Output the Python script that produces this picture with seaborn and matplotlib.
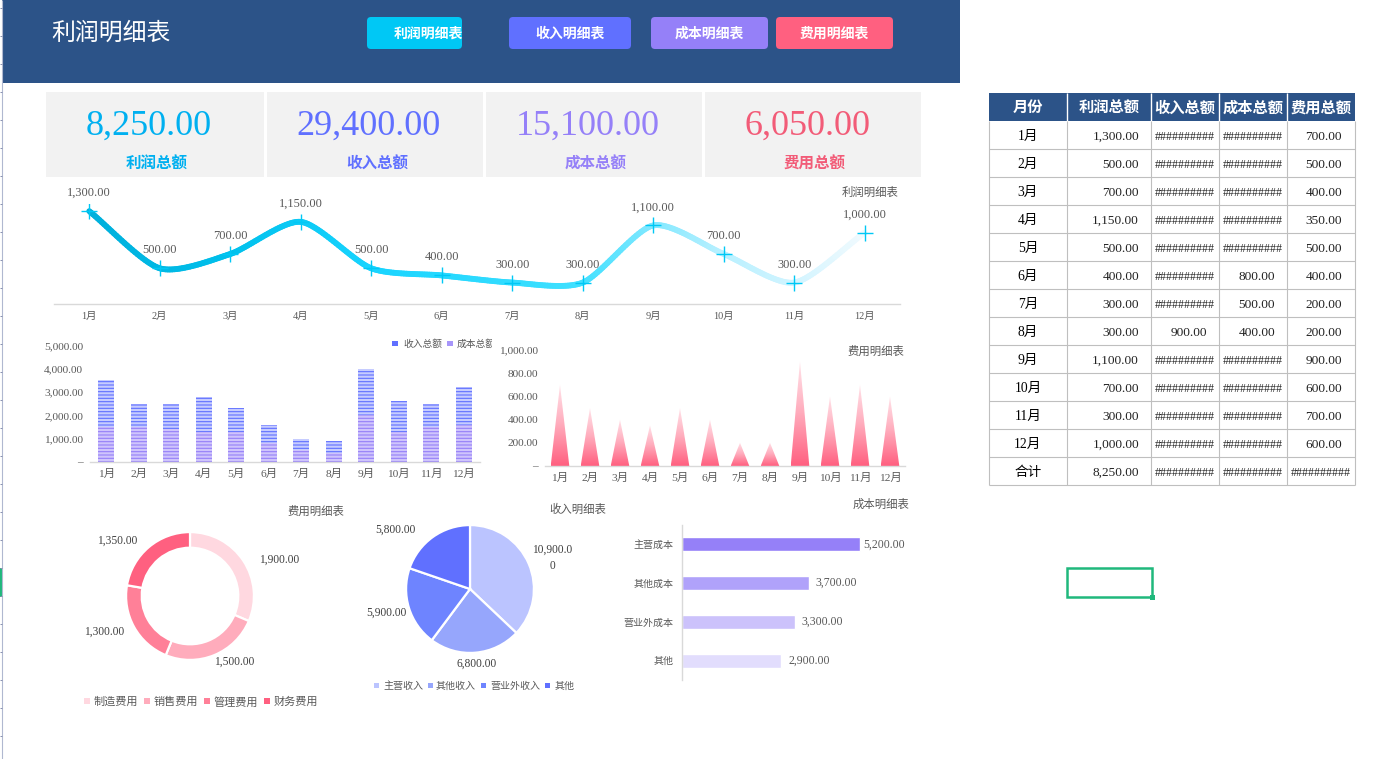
import numpy as np
import pandas as pd
import matplotlib
matplotlib.use("Agg")
import matplotlib.pyplot as plt
from matplotlib.collections import LineCollection
from matplotlib.colors import LinearSegmentedColormap
from matplotlib.patches import FancyBboxPatch, Polygon, Rectangle
from matplotlib.ticker import FuncFormatter
import seaborn as sns

sns.set_theme(style="white")
plt.rcParams["font.family"] = ["Liberation Serif", "Noto Sans CJK SC"]
plt.rcParams["hatch.linewidth"] = 0.8

# ── data ──────────────────────────────────────────────────────────────
months = ["1月", "2月", "3月", "4月", "5月", "6月", "7月", "8月", "9月", "10月", "11月", "12月"]
profit = [1300, 500, 700, 1150, 500, 400, 300, 300, 1100, 700, 300, 1000]
revenue = [3500, 2500, 2500, 2800, 2300, 1600, 1000, 900, 4000, 2600, 2500, 3200]
cost = [1500, 1500, 1400, 1300, 1300, 800, 500, 400, 2000, 1300, 1500, 1600]
expense = [700, 500, 400, 350, 500, 400, 200, 200, 900, 600, 700, 600]

expense_types = ["制造费用", "销售费用", "管理费用", "财务费用"]
expense_split = [1900, 1500, 1300, 1350]
revenue_types = ["主营收入", "其他收入", "营业外收入", "其他"]
revenue_split = [10900, 6800, 5900, 5800]
cost_types = ["主营成本", "其他成本", "营业外成本", "其他"]
cost_split = [5200, 3700, 3300, 2900]

nav_labels = ["利润明细表", "收入明细表", "成本明细表", "费用明细表"]
kpi_labels = ["利润总额", "收入总额", "成本总额", "费用总额"]
table_head = ["月份", "利润总额", "收入总额", "成本总额", "费用总额"]

# ── colours ───────────────────────────────────────────────────────────
NAVY = "#2C5388"
CYAN, BLUE, PURPLE, PINK = "#00C8F5", "#6070FF", "#9580F8", "#FF6080"
GREY_TXT = "#595959"
AXIS = "#D9D9D9"
GRID = "#BFBFBF"
GREEN = "#20B87C"
PINKS = ["#FFD8E0", "#FFACBC", "#FF8098", "#FF6080"]
BLUES = ["#BBC4FF", "#96A6FC", "#6E84FF", "#6070FF"]
PURPLES = ["#9580F8", "#B0A2FA", "#CCC2FB", "#E2DDFD"]

W, H = 1396, 759
fig = plt.figure(figsize=(W / 100, H / 100), dpi=100, facecolor="white")


def money(v):
    return f"{v:,.2f}"


def px_axes(left, top, right, bottom):
    a = fig.add_axes([left / W, 1 - bottom / H, (right - left) / W, (bottom - top) / H])
    a.patch.set_alpha(0)
    return a


def clean(a, keep="bottom"):
    for s in a.spines.values():
        s.set_visible(False)
    a.spines[keep].set_visible(True)
    a.spines[keep].set_color(AXIS)
    a.spines[keep].set_linewidth(1)
    a.set_xlabel("")
    a.set_ylabel("")


# ── page background, header, cards (pixel coords) ─────────────────────
bg = fig.add_axes([0, 0, 1, 1])
bg.set_xlim(0, W)
bg.set_ylim(H, 0)
bg.axis("off")

bg.add_patch(Rectangle((2, 0), 958, 83, color=NAVY, lw=0))
bg.text(51, 34, "利润明细表", color="white", fontsize=17.2, va="center")

bg.vlines(1.5, 0, H, color="#B0B8D0", lw=0.8)
bg.hlines(np.arange(8, H, 28), 0, 1.5, color="#8890B0", lw=0.7)
bg.add_patch(Rectangle((0, 568), 2, 29, color=GREEN, lw=0))

nav_x = [(367, 462), (509, 631), (651, 768), (776, 893)]
nav_c = [CYAN, BLUE, PURPLE, PINK]
nav_text_x = [428.5, 570.5, 709.5, 834.5]
for (x0, x1), c, t, tx in zip(nav_x, nav_c, nav_labels, nav_text_x):
    bg.add_patch(FancyBboxPatch((x0 + 4, 21), x1 - x0 - 8, 24, boxstyle="round,pad=4,rounding_size=4",
                                fc=c, ec="none", mutation_aspect=1))
    bg.text(tx, 33.5, t, color="white", fontsize=10, fontweight="bold", ha="center", va="center")

card_x = [(46, 264), (267, 483), (486, 702), (705, 921)]
card_c = ["#00B0F0", BLUE, PURPLE, "#F25C78"]
kpi_values = [sum(profit), sum(revenue), sum(cost), sum(expense)]
for (x0, x1), c, t, v in zip(card_x, card_c, kpi_labels, kpi_values):
    bg.add_patch(Rectangle((x0, 92), x1 - x0, 85, color="#F2F2F2", lw=0))
    bg.text((x0 + x1) / 2 - 6, 126, money(v), color=c, fontsize=26, ha="center", va="center")
    bg.text((x0 + x1) / 2 + 2, 164.5, t, color=c, fontsize=11.2, fontweight="bold",
            ha="center", va="center")

# chart titles sitting above the plots
for x, y, t in [(870, 192, "利润明细表"), (876, 351, "费用明细表"), (316, 511, "费用明细表"),
                (578, 509, "收入明细表"), (881, 504, "成本明细表")]:
    bg.text(x, y, t, color=GREY_TXT, fontsize=8.2, ha="center", va="center")

# ── table ─────────────────────────────────────────────────────────────
col_x = [988.5, 1067, 1151, 1219, 1287, 1355]
row_top, head_bottom, row_h = 93, 120.5, 28
n_rows = len(months) + 1
table_bottom = head_bottom + n_rows * row_h

bg.add_patch(Rectangle((col_x[0], row_top), col_x[-1] - col_x[0], head_bottom - row_top, color=NAVY, lw=0))
bg.vlines(col_x[1:-1], row_top, head_bottom, color="white", lw=1)
bg.hlines([head_bottom + i * row_h for i in range(1, n_rows + 1)], col_x[0], col_x[-1], color=GRID, lw=0.8)
bg.vlines(col_x, head_bottom, table_bottom, color=GRID, lw=0.8)
for i, t in enumerate(table_head):
    bg.text((col_x[i] + col_x[i + 1]) / 2, 108.5, t, color="white", fontsize=11, fontweight="bold",
            ha="center", va="center")

rights = [1139, 1207, 1275, 1342]
table_rows = list(zip(months, profit, revenue, cost, expense))
table_rows.append(("合计", sum(profit), sum(revenue), sum(cost), sum(expense)))
for r, (m, *vals) in enumerate(table_rows):
    y = head_bottom + (r + 0.5) * row_h + 2
    bg.text(1028, y, m, color="black", fontsize=9.8, ha="center", va="center")
    for c, v in enumerate(vals):
        # narrow columns show ###### once the number no longer fits
        if c > 0 and v >= 1000:
            bg.text((col_x[c + 1] + col_x[c + 2]) / 2, y, "#" * 10, color="#222222", fontsize=8.6,
                    ha="center", va="center")
        else:
            bg.text(rights[c], y, money(v), color="#222222", fontsize=9.6, ha="right", va="center")

bg.add_patch(Rectangle((1067, 568), 85, 29, fc="none", ec=GREEN, lw=1.8))
bg.add_patch(Rectangle((1149.5, 594.5), 5, 5, color=GREEN, lw=0))

# ── profit line ───────────────────────────────────────────────────────
ax = px_axes(54, 204, 900, 304)
x_idx = np.arange(len(months))
line_df = pd.DataFrame({"x": x_idx, "y": profit})
sns.lineplot(data=line_df, x="x", y="y", ax=ax, marker="+", linestyle="none", markersize=11,
             markeredgewidth=1, markeredgecolor=CYAN, color=CYAN, errorbar=None, zorder=5)

# smooth stroke through the values, a little tighter than plain Catmull-Rom
pts = np.column_stack([x_idx, profit]).astype(float)
tang = np.gradient(pts, axis=0) * 0.75
curve = []
for i in range(len(pts) - 1):
    for u in np.linspace(0, 1, 30, endpoint=False):
        curve.append((2 * u ** 3 - 3 * u ** 2 + 1) * pts[i] + (u ** 3 - 2 * u ** 2 + u) * tang[i]
                     + (-2 * u ** 3 + 3 * u ** 2) * pts[i + 1] + (u ** 3 - u ** 2) * tang[i + 1])
curve.append(pts[-1])
curve = np.array(curve)
segs = np.stack([curve[:-1], curve[1:]], axis=1)
line_cmap = LinearSegmentedColormap.from_list("fade", [
    (0.0, "#00B0DC"), (2 / 11, "#00C0EC"), (4 / 11, "#18D4FF"), (7 / 11, "#40E0FF"),
    (8 / 11, "#80E8FF"), (9 / 11, "#B8F0FF"), (10 / 11, "#D0F4FF"), (1.0, "#F0FAFE")])
lc = LineCollection(segs, cmap=line_cmap, linewidths=4.2, capstyle="round", zorder=3)
lc.set_array(segs[:, 0, 0] / 11)
ax.add_collection(lc)

for xv, yv in zip(x_idx, profit):
    ax.annotate(money(yv), (xv, yv), xytext=(0, 13), textcoords="offset points", ha="center",
                va="center", fontsize=8.9, color=GREY_TXT, annotation_clip=False)
ax.set_xlim(-0.5, 11.5)
ax.set_ylim(0, 1400)
ax.set_xticks(x_idx, months)
ax.set_yticks([])
ax.tick_params(axis="x", length=0, pad=6, labelsize=7.5, labelcolor=GREY_TXT)
clean(ax)

# ── revenue / cost bars ───────────────────────────────────────────────
ax = px_axes(90, 345.5, 480, 462)
bar_df = pd.DataFrame({"month": months, "revenue": revenue, "cost": cost})
sns.barplot(data=bar_df, x="month", y="revenue", ax=ax, color="#C6CCFF", saturation=1, width=0.48)
sns.barplot(data=bar_df, x="month", y="cost", ax=ax, color="#CFC4FC", saturation=1, width=0.48)
n = len(months)
for i, patch in enumerate(ax.patches):
    patch.set_hatch("-----")
    patch.set_edgecolor(BLUE if i < n else PURPLE)
    patch.set_linewidth(0)
ax.set_ylim(0, 5000)
ax.set_yticks(range(0, 5001, 1000))
ax.yaxis.set_major_formatter(FuncFormatter(lambda v, _: "–" if v == 0 else money(v)))
ax.tick_params(axis="both", length=0, labelsize=8.2, labelcolor=GREY_TXT)
ax.tick_params(axis="x", pad=5)
ax.tick_params(axis="y", pad=5)
clean(ax)

# legend is cut off by the chart frame in the sheet
bg.add_patch(Rectangle((392, 341), 6, 5, color=BLUE, lw=0))
bg.text(403, 344, kpi_labels[1], color=GREY_TXT, fontsize=7, va="center")
bg.add_patch(Rectangle((447, 341), 6, 5, color="#A796FA", lw=0))
leg_cut = bg.text(457, 344, kpi_labels[2], color=GREY_TXT, fontsize=7, va="center")
leg_cut.set_clip_on(True)
leg_cut.set_clip_path(Rectangle((440, 330), 52, 30, transform=bg.transData))

# ── expense triangles ─────────────────────────────────────────────────
ax = px_axes(545, 350, 905, 466)
exp_df = pd.DataFrame({"month": months, "expense": expense})
sns.barplot(data=exp_df, x="month", y="expense", ax=ax, color="white", saturation=1, width=0.62, alpha=0)
tri_cmap = LinearSegmentedColormap.from_list("tri", [PINK, "#FFAABB", "#FFE4EA"])
grad = np.linspace(0, 1, 128)[:, None]
for bar in list(ax.patches):
    x0, wd, ht = bar.get_x(), bar.get_width(), bar.get_height()
    tri = Polygon([(x0, 0), (x0 + wd / 2, ht), (x0 + wd, 0)], transform=ax.transData, fc="none", ec="none")
    ax.add_patch(tri)
    im = ax.imshow(grad, origin="lower", aspect="auto", cmap=tri_cmap, extent=(x0, x0 + wd, 0, ht), zorder=2)
    im.set_clip_path(tri)
ax.set_xlim(-0.5, 11.5)
ax.set_ylim(0, 1000)
ax.set_yticks(range(0, 1001, 200))
ax.yaxis.set_major_formatter(FuncFormatter(lambda v, _: "–" if v == 0 else money(v)))
ax.tick_params(axis="both", length=0, labelsize=8.2, labelcolor=GREY_TXT)
ax.tick_params(axis="x", pad=5)
ax.tick_params(axis="y", pad=5)
clean(ax)

# ── expense donut ─────────────────────────────────────────────────────
ax = px_axes(122, 528, 258, 664)
ax.pie(expense_split, colors=PINKS, startangle=90, counterclock=False, radius=0.94,
       wedgeprops=dict(width=0.23, edgecolor="white", linewidth=1.6))
ax.set_xlim(-1, 1)
ax.set_ylim(-1, 1)
for (x, y), v in zip([(279, 560), (234, 662), (104, 632), (117, 541)], expense_split):
    bg.text(x, y, money(v), color="#404040", fontsize=8.3, ha="center", va="center")

for sx, tx, t in zip([84, 144, 204, 264], [94, 154, 214, 274], expense_types):
    bg.add_patch(Rectangle((sx, 698), 6, 6, color=PINKS[expense_types.index(t)], lw=0))
    bg.text(tx, 702, t, color=GREY_TXT, fontsize=8, va="center")

# ── revenue pie ───────────────────────────────────────────────────────
ax = px_axes(402, 521, 538, 657)
ax.pie(revenue_split, colors=BLUES, startangle=90, counterclock=False, radius=0.94,
       wedgeprops=dict(edgecolor="white", linewidth=1.6))
ax.set_xlim(-1, 1)
ax.set_ylim(-1, 1)
rev_lbl = [money(v) for v in revenue_split]
rev_lbl[0] = rev_lbl[0][:8] + "\n" + rev_lbl[0][8:]  # label wraps in the narrow chart
for (x, y), t in zip([(552, 558), (477, 664), (386, 613), (395, 530)], rev_lbl):
    bg.text(x, y, t, color="#404040", fontsize=8.3, ha="center", va="center", linespacing=1.4)

for sx, tx, t in zip([374, 428, 481, 545], [383, 436, 490, 555], revenue_types):
    bg.add_patch(Rectangle((sx, 683), 5, 5, color=BLUES[revenue_types.index(t)], lw=0))
    bg.text(tx, 686, t, color=GREY_TXT, fontsize=7.2, va="center")

# ── cost bars ─────────────────────────────────────────────────────────
ax = px_axes(682, 525, 900, 680)
cost_df = pd.DataFrame({"kind": cost_types, "value": cost_split, "slot": range(len(cost_types))})
sns.barplot(data=cost_df, y="slot", x="value", hue="slot", orient="y", order=range(len(cost_types)),
            palette=PURPLES, saturation=1, width=0.36, dodge=False, legend=False, ax=ax)
for k, cont in enumerate(ax.containers):
    # the longest bar's label sits closer to its bar in the reference
    ax.bar_label(cont, labels=[money(v) for v in cont.datavalues], padding=2 if k == 0 else 5,
                 fontsize=8.5, color=GREY_TXT)
ax.set_xlim(0, 218 / 0.03423)
ax.set_yticks(range(len(cost_types)), cost_types)
ax.set_xticks([])
ax.tick_params(axis="y", length=0, pad=6, labelsize=7.2, labelcolor=GREY_TXT)
clean(ax, keep="left")

fig.savefig("out.png", dpi=100, facecolor="white")
